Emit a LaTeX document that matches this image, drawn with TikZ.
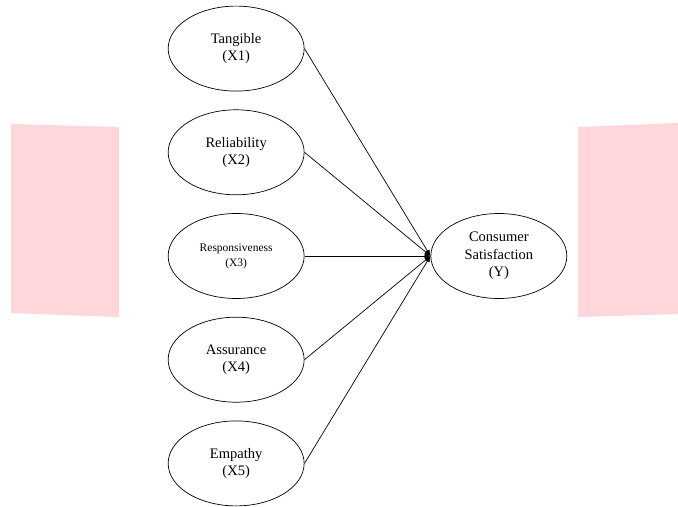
\documentclass[tikz,border=0pt]{standalone}
\usepackage{fontspec}
\setmainfont{Liberation Serif}
\usetikzlibrary{matrix, arrows.meta, shapes.geometric}
\definecolor{blush}{RGB}{255,214,217}

\begin{document}
\begin{tikzpicture}[x=1bp, y=-1bp, >={Latex[length=6bp,width=5bp]}, line width=0.7bp,
  var/.style={draw, ellipse, inner sep=0pt, minimum width=136bp, minimum height=85bp, align=center, font=\fontsize{14.5bp}{17.5bp}\selectfont}]
\useasboundingbox (0,0) rectangle (678,507);
\fill[blush] (11,124) -- (119,127) -- (119,317) -- (11,313) -- cycle;
\fill[blush] (578,127) -- (678,123) -- (678,314) -- (578,317) -- cycle;
\matrix (m) [column sep = 126bp, row sep = 18bp] at (367.5,256) {
\node[var](x1){Tangible\\(X1)}; & \\
\node[var](x2){Reliability\\(X2)}; & \\
\node[var, font=\fontsize{11.5bp}{15bp}\selectfont](x3){Responsiveness\\(X3)}; & \node[var](y){Consumer\\Satisfaction\\(Y)}; \\
\node[var](x4){Assurance\\(X4)}; & \\
\node[var](x5){Empathy\\(X5)}; & \\
};
\draw[->] (x1.east) -- (y.west);
\draw[->] (x2.east) -- (y.west);
\draw[->] (x3.east) -- (y.west);
\draw[->] (x4.east) -- (y.west);
\draw[->] (x5.east) -- (y.west);
\end{tikzpicture}
\end{document}
